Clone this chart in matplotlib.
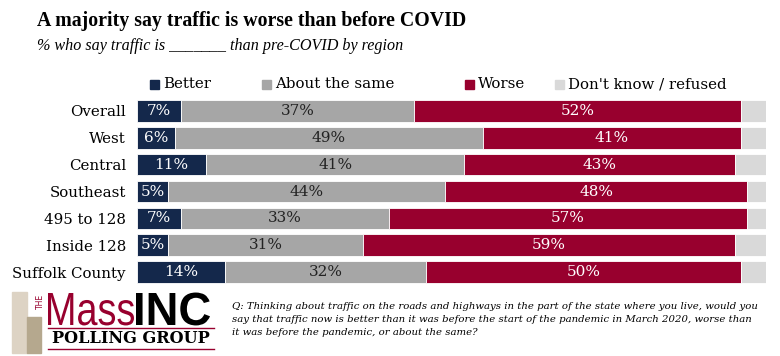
import matplotlib
matplotlib.use("Agg")
import matplotlib.pyplot as plt
from matplotlib.patches import Rectangle, PathPatch
from matplotlib.textpath import TextPath
from matplotlib.font_manager import FontProperties
from matplotlib.transforms import Affine2D

categories = ["Overall", "West", "Central", "Southeast", "495 to 128", "Inside 128", "Suffolk County"]
better = [7, 6, 11, 5, 7, 5, 14]
same = [37, 49, 41, 44, 33, 31, 32]
worse = [52, 41, 43, 48, 57, 59, 50]
dk = [4, 4, 5, 3, 3, 5, 4]
series_names = ["Better", "About the same", "Worse", "Don't know / refused"]
colors = ["#14284b", "#a6a6a6", "#98002e", "#d9d9d9"]
label_colors = ["white", "#222222", "white", None]

W, H = 780, 356
fig = plt.figure(figsize=(W / 100, H / 100), dpi=100)
serif = ["DejaVu Serif"]
tserif = ["Liberation Serif", "DejaVu Serif"]

ax = fig.add_axes([137 / W, 1 - 285.5 / H, (766 - 137) / W, 188 / H])
ypos = list(range(len(categories)))
left = [0] * len(categories)
for vals, name, col, lc in zip([better, same, worse, dk], series_names, colors, label_colors):
    ax.barh(ypos, vals, left=left, height=0.8, color=col, edgecolor="white", linewidth=0.6, label=name)
    if lc:
        for y, v, l in zip(ypos, vals, left):
            ax.text(l + v / 2, y, f"{v}%", ha="center", va="center", color=lc, fontsize=11, family=serif)
    left = [a + b for a, b in zip(left, vals)]
ax.set_xlim(0, 100)
ax.set_ylim(len(categories) - 0.5, -0.5)
ax.set_yticks(ypos)
ax.set_yticklabels(categories, family=serif, fontsize=10.8)
ax.tick_params(axis="y", length=0, pad=8)
ax.set_xticks([])
for s in ax.spines.values():
    s.set_visible(False)

# legend
leg_x = [150, 262, 465, 555]
for x, name, col in zip(leg_x, series_names, colors):
    fig.patches.append(Rectangle((x / W, 1 - 89 / H), 9 / W, 9 / H, transform=fig.transFigure, color=col))
    fig.text((x + 13) / W, 1 - 84 / H, name, va="center", ha="left", fontsize=10.8, family=serif)

fig.text(37 / W, 1 - 21 / H, "A majority say traffic is worse than before COVID", fontsize=14.3,
         fontweight="bold", family=tserif, va="center")
fig.text(37 / W, 1 - 46 / H, "% who say traffic is _______ than pre-COVID by region", fontsize=11.6,
         style="italic", family=tserif, va="center")

fig.text(232 / W, 1 - 302 / H,
         "Q: Thinking about traffic on the roads and highways in the part of the state where you live, would you\n"
         "say that traffic now is better than it was before the start of the pandemic in March 2020, worse than\n"
         "it was before the pandemic, or about the same?",
         fontsize=7.3, style="italic", family=serif, va="top", ha="left", linespacing=1.6)

# logo
lg = fig.add_axes([0, 0, 1, 1], zorder=-1)
lg.set_xlim(0, W)
lg.set_ylim(H, 0)
lg.axis("off")
lg.add_patch(Rectangle((12, 292), 15, 61, color="#ddd3c4"))
lg.add_patch(Rectangle((27, 317), 14, 36, color="#b5a88e"))
lg.text(40.5, 301, "THE", rotation=90, fontsize=5.5, color="#98002e", ha="center", va="center", family="DejaVu Sans")


def logo_word(word, x0, x1, baseline, cap, color, weight):
    prop = FontProperties(family="Liberation Sans", weight=weight)
    p = TextPath((0, 0), word, size=1, prop=prop)
    ext = p.get_extents()
    caph = TextPath((0, 0), "M", size=1, prop=prop).get_extents().height
    sx = (x1 - x0) / ext.width
    sy = cap / caph
    tr = Affine2D().translate(-ext.x0, 0).scale(sx, -sy).translate(x0, baseline)
    lg.add_patch(PathPatch(p, transform=tr + lg.transData, color=color, lw=0))


logo_word("Mass", 48, 134, 325, 32, "#98002e", "normal")
logo_word("INC", 136, 210, 325, 32, "black", "bold")
lg.plot([48, 214], [328, 328], color="#98002e", lw=1)
lg.text(131, 338.5, "POLLING GROUP", fontsize=11.6, color="black", ha="center", va="center",
        family=serif, fontweight="bold")
lg.plot([48, 214], [349, 349], color="#98002e", lw=1)

fig.savefig("out.png", dpi=100)
